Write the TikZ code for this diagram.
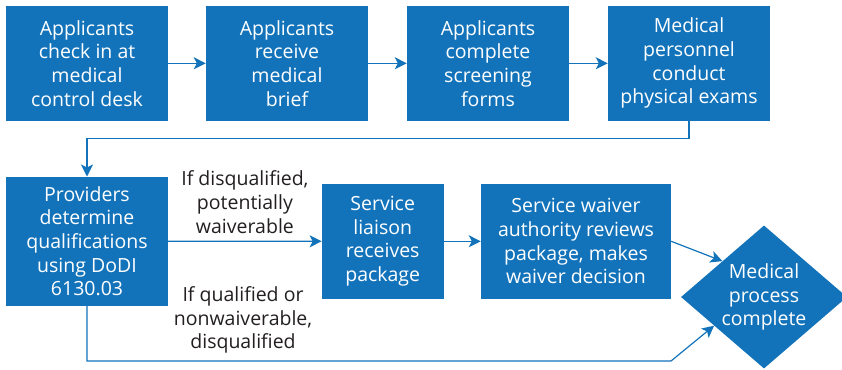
\documentclass[tikz,border=0pt]{standalone}
\usepackage{fontspec}
\setmainfont{Open Sans}
\usetikzlibrary{arrows.meta,shapes.geometric,calc}
\definecolor{stepblue}{HTML}{1373BA}
\definecolor{labelgray}{HTML}{231F20}

\begin{document}
\begin{tikzpicture}[x=1pt,y=-1pt]
\useasboundingbox (0,0) rectangle (842,369);
\begin{scope}[every node/.style={rectangle,fill=stepblue,text=white,align=center,
              inner sep=0pt,minimum width=162pt,minimum height=114.7pt,
              font=\fontsize{19.5}{23.7}\selectfont}]
    \node (checkin)  at (87   ,63.3 )  {Applicants\\check in at\\medical\\control desk};
    \node (brief)    at (287  ,63.3 )  {Applicants\\receive\\medical\\brief};
    \node (forms)    at (488  ,63.3 )  {Applicants\\complete\\screening\\forms};
    \node (exams)    at (689  ,63.3 )  {Medical\\personnel\\conduct\\physical exams};
    \node (qualify)  at (87   ,241.2)  [minimum height=129pt] {Providers\\determine\\qualifications\\using DoDI\\6130.03};
    \node (liaison)  at (382.7,241.3)  [minimum width=121.7pt] {Service\\liaison\\receives\\package};
    \node (waiver)   at (576  ,241.3)  [minimum width=190pt] {Service waiver\\authority reviews\\package, makes\\waiver decision};
    \node (done)     at (764  ,297  )  [diamond,minimum width=166pt,minimum height=143pt,
                                        inner sep=-10pt] {Medical\\process\\complete};
\end{scope}

\begin{scope}[>={Stealth[length=12pt,width=12pt,inset=3pt]},
              every node/.style={text=labelgray,align=center,
                                 font=\fontsize{19.5}{23.7}\selectfont},
              every path/.style={draw=stepblue,line width=1.2pt}]
    \draw [->] (checkin) -- (brief);
    \draw [->] (brief)   -- (forms);
    \draw [->] (forms)   -- (exams);
    \draw [->] (exams.south) -- ++(0,18) -| (qualify.north);

    \draw [->] (qualify) -- node[above,midway,yshift=4pt] (waivable) {If disqualified,\\potentially\\waiverable} (liaison);
    \draw [->] (liaison) -- (waiver);
    \draw [->] (waiver.east) -- (done.north west);

    \coordinate (corner) at (671,361);
    \draw [->] (qualify.south) |- (corner) -- ($(done.west)!0.4!(done.south)$);
    \node (qualified) at (243,320) {If qualified or\\nonwaiverable,\\disqualified};
\end{scope}
\end{tikzpicture}
\end{document}
